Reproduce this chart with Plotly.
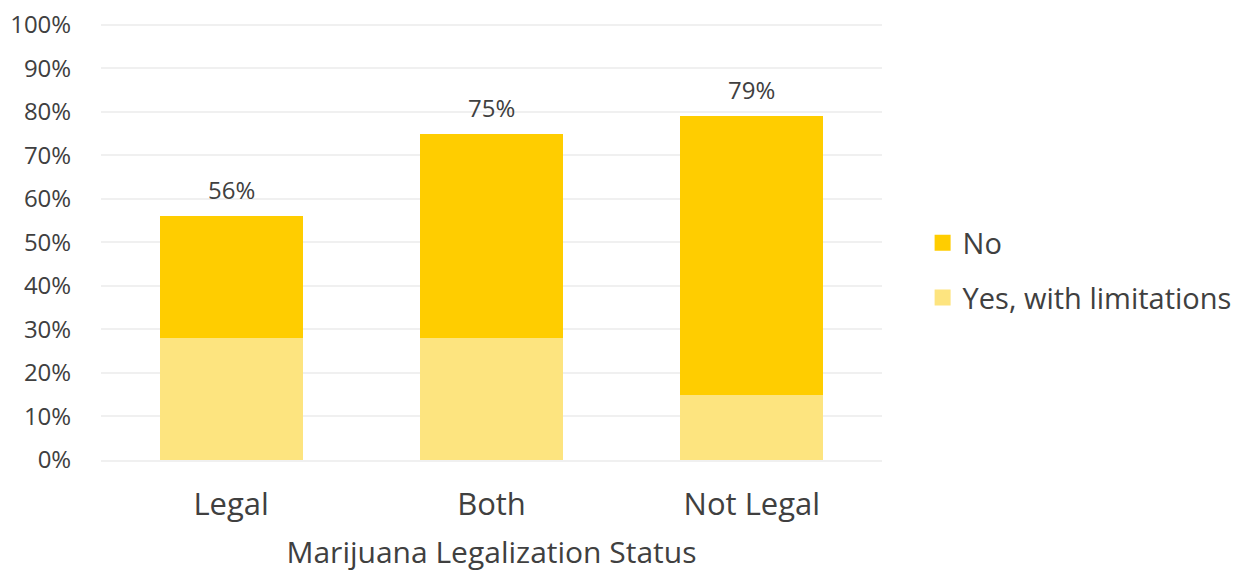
import plotly.graph_objects as go

categories = ["Legal", "Both", "Not Legal"]
yes_limited = [28, 28, 15]
totals = [56, 75, 79]
no_values = [t - y for t, y in zip(totals, yes_limited)]
y_ticks = list(range(0, 101, 10))
y_tick_labels = [f"{v}%" for v in y_ticks]

FONT = "Open Sans"
TEXT = "#404040"
C_YES = "#FDE47F"
C_NO = "#FFCD00"

fig = go.Figure()
fig.add_trace(go.Bar(
    name="Yes, with limitations", x=categories, y=yes_limited,
    marker=dict(color=C_YES, line=dict(width=0)), width=0.55, showlegend=False,
))
fig.add_trace(go.Bar(
    name="No", x=categories, y=no_values,
    marker=dict(color=C_NO, line=dict(width=0)), width=0.55, showlegend=False,
))

# legend entries with larger square swatches
for name, color, grp in [("No", C_NO, "a"), ("Yes, with limitations", C_YES, "b")]:
    fig.add_trace(go.Scatter(
        x=[None], y=[None], mode="markers", name=name, legendgroup=grp,
        marker=dict(symbol="square", size=20, color=color),
    ))

# total labels above each stack
for cat, t in zip(categories, totals):
    fig.add_annotation(
        x=cat, y=t, text=f"{t}%", showarrow=False,
        yanchor="bottom", yshift=8,
        font=dict(size=24, color=TEXT, family=FONT),
    )

fig.update_layout(
    barmode="stack",
    width=1253, height=572,
    margin=dict(l=101, r=371, t=23, b=112),
    paper_bgcolor="white", plot_bgcolor="white",
    font=dict(family=FONT, color=TEXT),
    showlegend=True,
    legend=dict(x=1.052, y=0.434, xanchor="left", yanchor="middle",
                font=dict(size=29, color=TEXT, family=FONT),
                traceorder="grouped", tracegroupgap=14,
                itemsizing="trace", itemwidth=30),
)
fig.update_yaxes(
    range=[0, 100.4], tickmode="array", tickvals=y_ticks, ticktext=y_tick_labels,
    showgrid=True, gridcolor="#F0F0F0", gridwidth=2,
    zeroline=False, showline=False, automargin=False,
    tickfont=dict(size=24, color=TEXT, family=FONT),
    ticks="outside", ticklen=24, tickcolor="rgba(0,0,0,0)",
)
fig.update_xaxes(
    showline=True, linecolor="#F0F0F0", linewidth=2, automargin=False,
    tickfont=dict(size=31, color=TEXT, family=FONT),
    ticks="outside", ticklen=16, tickcolor="rgba(0,0,0,0)",
    title=dict(text="Marijuana Legalization Status",
               font=dict(size=30, color=TEXT, family=FONT), standoff=22),
)

fig.write_html("out.html")
